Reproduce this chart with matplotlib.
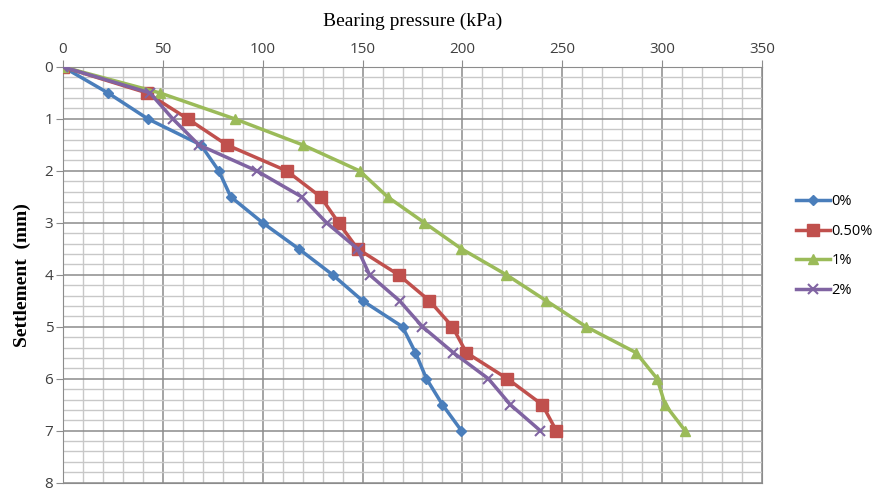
import matplotlib
matplotlib.use('Agg')
import matplotlib.pyplot as plt
from matplotlib.ticker import MultipleLocator

# settlement levels (mm)
settlement = [0, 0.5, 1, 1.5, 2, 2.5, 3, 3.5, 4, 4.5, 5, 5.5, 6, 6.5, 7]

# bearing pressure (kPa)
p_0 = [0, 22.5, 42.5, 69, 78, 84, 100, 118, 135, 150, 170, 176.5, 182, 190, 199.5]
p_050 = [0, 42, 62.5, 82, 112, 129, 138, 147.5, 168, 183.5, 195, 202, 222.5, 240, 247]
p_1 = [0, 48.5, 86, 120, 148.5, 162.5, 181, 199.5, 222, 242, 262, 287, 297.5, 301.5, 311.5]
p_2 = [0, 43.5, 55, 68, 97, 119.5, 132, 147.5, 153.5, 168.5, 180, 195.5, 213, 224, 239]

labels = ['0%', '0.50%', '1%', '2%']
colors = ['#4A7EBB', '#C0504D', '#9BBB59', '#8064A2']
markers = ['D', 's', '^', 'x']
msizes = [5, 8, 7, 7]

fig = plt.figure(figsize=(8.8, 4.92), dpi=100)
ax = fig.add_axes([0.0716, 0.019, 0.7943, 0.845])

for p, lab, c, m, ms in zip([p_0, p_050, p_1, p_2], labels, colors, markers, msizes):
    ax.plot(p, settlement, color=c, marker=m, markersize=ms, linewidth=2.5,
            label=lab, markeredgewidth=1.5 if m == 'x' else 1, zorder=3)

ax.set_xlim(0, 350)
ax.set_ylim(8, 0)
ax.xaxis.set_major_locator(MultipleLocator(50))
ax.xaxis.set_minor_locator(MultipleLocator(10))
ax.yaxis.set_major_locator(MultipleLocator(1))
ax.yaxis.set_minor_locator(MultipleLocator(0.2))
ax.xaxis.tick_top()
ax.xaxis.set_label_position('top')

ax.grid(which='major', color='#8c8c8c', linewidth=1.1)
ax.grid(which='minor', color='#c8c8c8', linewidth=1.0)
ax.set_axisbelow(True)
for s in ax.spines.values():
    s.set_color('#8c8c8c')
ax.tick_params(which='major', length=5, color='#8c8c8c', labelsize=11, labelcolor='#404040', pad=2)
ax.tick_params(which='minor', length=0)
for t in ax.get_xticklabels() + ax.get_yticklabels():
    t.set_fontfamily('Open Sans')

ax.set_xlabel('Bearing pressure (kPa)', family='Liberation Serif', fontsize=14, labelpad=12)
ax.set_ylabel('Settlement  (mm)', family='Liberation Serif', fontsize=14,
              fontweight='bold', labelpad=10)

leg = fig.legend(loc='center left', bbox_to_anchor=(0.89, 0.50), frameon=False,
                 prop={'family': 'Open Sans', 'size': 10.5}, handlelength=2.3,
                 handletextpad=0.1, labelspacing=1.0)

fig.savefig('out.png', dpi=100)
